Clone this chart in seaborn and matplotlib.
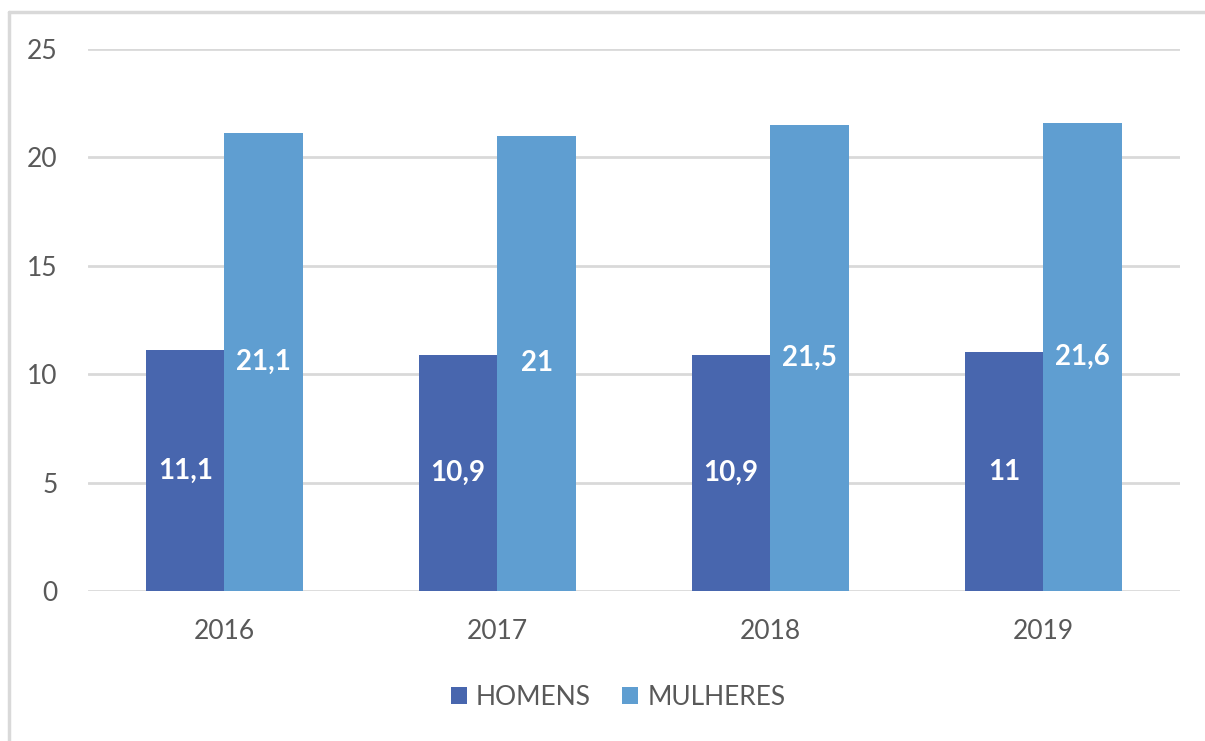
import pandas as pd
import matplotlib
matplotlib.use('Agg')
import matplotlib.pyplot as plt
from matplotlib.lines import Line2D
import seaborn as sns

# data
anos = ['2016', '2017', '2018', '2019']
homens = [11.1, 10.9, 10.9, 11.0]
mulheres = [21.1, 21.0, 21.5, 21.6]
rotulos_homens = ['11,1', '10,9', '10,9', '11']
rotulos_mulheres = ['21,1', '21', '21,5', '21,6']

COR_HOMENS = '#4866AE'
COR_MULHERES = '#5F9ED1'
GRID = '#D9D9D9'
TEXTO = '#595959'

df = pd.DataFrame({
    'ano': anos * 2,
    'valor': homens + mulheres,
    'grupo': ['HOMENS'] * len(anos) + ['MULHERES'] * len(anos),
})

sns.set_theme(style='white')
plt.rcParams['font.family'] = ['Lato', 'DejaVu Sans']

fig = plt.figure(figsize=(12.05, 7.41), dpi=100)
ax = fig.add_axes([0.073, 0.2024, 0.906, 0.7316])

sns.barplot(data=df, x='ano', y='valor', hue='grupo', order=anos,
            palette=[COR_HOMENS, COR_MULHERES], width=0.575, gap=0,
            saturation=1, linewidth=0, ax=ax, legend=True)

for cont, labs in zip(ax.containers, [rotulos_homens, rotulos_mulheres]):
    ax.bar_label(cont, labels=labs, label_type='center', color='white',
                 fontsize=20, fontweight='bold')

ax.set_ylim(0, 25)
ax.set_xlim(-0.5, 3.5)
ax.set_yticks([0, 5, 10, 15, 20, 25])
ax.yaxis.grid(True, color=GRID, linewidth=2)
ax.set_axisbelow(True)
for s in ax.spines.values():
    s.set_visible(False)
ax.set_xlabel('')
ax.set_ylabel('')
ax.tick_params(axis='both', length=0, labelsize=19, labelcolor=TEXTO)
ax.tick_params(axis='y', pad=22)
ax.tick_params(axis='x', pad=20)

handles, labels = ax.get_legend_handles_labels()
ax.legend_.remove()
fig.legend(handles, labels, loc='center', bbox_to_anchor=(0.513, 0.059),
           ncol=2, frameon=False, fontsize=19, labelcolor=TEXTO,
           handlelength=0.6, handleheight=0.6, handletextpad=0.35,
           columnspacing=1.2)

# chart border (top and left edges visible in the reference)
x0 = 9 / 1205
y0 = 1 - 12 / 741
fig.add_artist(Line2D([x0, 1], [y0, y0], transform=fig.transFigure, color=GRID, linewidth=2.5))
fig.add_artist(Line2D([x0, x0], [0, y0], transform=fig.transFigure, color=GRID, linewidth=2.5))

fig.savefig('out.png', dpi=100)
